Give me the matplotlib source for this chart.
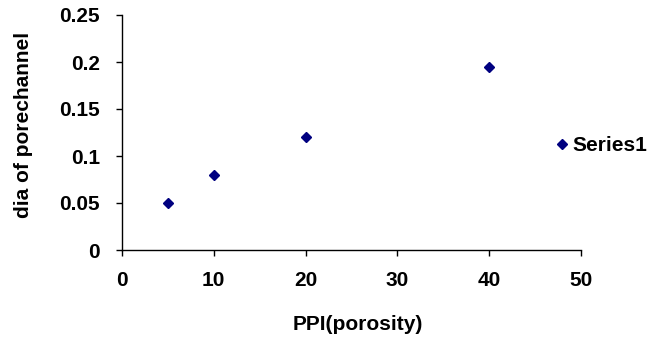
import matplotlib
matplotlib.use("Agg")
import matplotlib.pyplot as plt

ppi = [5, 10, 20, 40]
dia = [0.05, 0.08, 0.12, 0.195]
series_name = "Series1"
x_ticks = [0, 10, 20, 30, 40, 50]
y_ticks = [0, 0.05, 0.1, 0.15, 0.2, 0.25]
y_tick_labels = ["0", "0.05", "0.1", "0.15", "0.2", "0.25"]

plt.rcParams["font.family"] = ["Liberation Sans", "DejaVu Sans"]
plt.rcParams["font.weight"] = "bold"
fs = 15

fig = plt.figure(figsize=(6.6, 3.42), dpi=100)
ax = fig.add_axes([122 / 660, 92 / 342, 459 / 660, 235 / 342])

ax.plot(ppi, dia, linestyle="none", marker="D", markersize=4.8,
        color="#000080", label=series_name)

ax.set_xlim(0, 50)
ax.set_ylim(0, 0.25)
ax.set_xticks(x_ticks)
ax.set_xticklabels([str(v) for v in x_ticks])
ax.set_yticks(y_ticks)
ax.set_yticklabels(y_tick_labels)

for side in ("top", "right"):
    ax.spines[side].set_visible(False)
for side in ("left", "bottom"):
    ax.spines[side].set_linewidth(1.0)
    ax.spines[side].set_color("black")

ax.tick_params(axis="y", direction="out", length=4, width=1, pad=12,
               labelsize=fs)
ax.tick_params(axis="x", direction="out", length=4, width=1, pad=11,
               labelsize=fs)
for lbl in ax.get_xticklabels() + ax.get_yticklabels():
    lbl.set_fontweight("bold")

ax.set_xlabel("PPI(porosity)", fontsize=fs, fontweight="bold")
ax.xaxis.set_label_coords(358 / 660, 1 - 325 / 342, transform=fig.transFigure)
ax.xaxis.label.set_va("center")
ax.set_ylabel("dia of porechannel", fontsize=fs, fontweight="bold")
ax.yaxis.set_label_coords(24 / 660, 1 - 125 / 342, transform=fig.transFigure)
ax.yaxis.label.set_va("center")

fig.legend(loc="center left", bbox_to_anchor=(552 / 660, 1 - 146 / 342),
           frameon=False, handletextpad=0.0, handlelength=1.0, borderpad=0,
           borderaxespad=0, prop={"weight": "bold", "size": fs})

fig.savefig("out.png", dpi=100)
